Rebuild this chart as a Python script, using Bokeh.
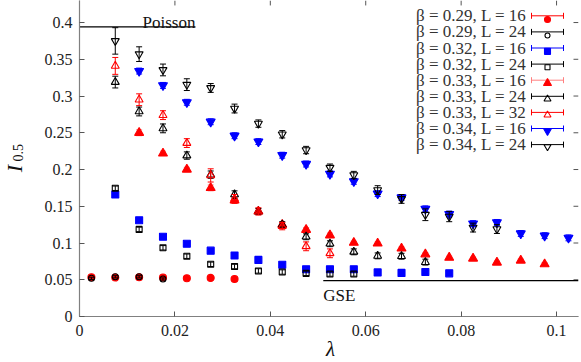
import numpy as np
from bokeh.plotting import figure
from bokeh.models import (ColumnDataSource, FixedTicker, CustomJSTickFormatter,
                          Range1d, Label, Whisker, TeeHead)
from bokeh.embed import file_html
from bokeh.resources import INLINE

# ---------------- data ----------------
lam_029_16 = [0.0025, 0.0075, 0.0125, 0.0175, 0.0225, 0.0275, 0.0325]
I_029_16 = [0.0535, 0.053, 0.0535, 0.053, 0.052, 0.0525, 0.051]
err_029_16 = [0.001] * 7

lam_029_24 = [0.0025, 0.0075, 0.0125, 0.0175]
I_029_24 = [0.052, 0.054, 0.054, 0.051]
err_029_24 = [0.0015] * 4

lam_032_16 = [0.0075, 0.0125, 0.0175, 0.0225, 0.0275, 0.0325, 0.0375, 0.0425,
              0.0475, 0.0525, 0.0575, 0.0625, 0.0675, 0.0725, 0.0775]
I_032_16 = [0.166, 0.131, 0.1085, 0.099, 0.0896, 0.083, 0.077, 0.0705,
            0.0643, 0.0643, 0.0643, 0.060, 0.0593, 0.0605, 0.0587]
err_032_16 = [0.002] * 15

lam_032_24 = [0.0075, 0.0125, 0.0175, 0.0225, 0.0275, 0.0325, 0.0375, 0.0425,
              0.0475, 0.0525, 0.0575]
I_032_24 = [0.1745, 0.1185, 0.0935, 0.082, 0.071, 0.068, 0.062, 0.0605,
            0.0587, 0.0578, 0.0578]
err_032_24 = [0.003] * 11

lam_033_16 = [0.0125, 0.0175, 0.0225, 0.0275, 0.0325, 0.0375, 0.0425, 0.0475, 0.0525,
              0.0575, 0.0625, 0.0675, 0.0725, 0.0775, 0.0825, 0.0875, 0.0925, 0.0975]
I_033_16 = [0.250, 0.222, 0.200, 0.175, 0.158, 0.143, 0.125, 0.118, 0.1105,
            0.1004, 0.0995, 0.0926, 0.0847, 0.0802, 0.0789, 0.0735, 0.0762, 0.0712]
err_033_16 = [0.004, 0.003, 0.003, 0.004, 0.004, 0.003, 0.003, 0.003, 0.003,
              0.002, 0.002, 0.002, 0.002, 0.002, 0.002, 0.002, 0.002, 0.002]

lam_033_24 = [0.0075, 0.0125, 0.0175, 0.0225, 0.0275, 0.0325, 0.0375, 0.0425,
              0.0475, 0.0525, 0.0575, 0.0625, 0.0675, 0.0725]
I_033_24 = [0.319, 0.279, 0.256, 0.219, 0.193, 0.166, 0.143, 0.125,
            0.1085, 0.099, 0.088, 0.0825, 0.082, 0.074]
err_033_24 = [0.008, 0.006, 0.006, 0.005, 0.005, 0.005, 0.004, 0.004,
              0.004, 0.004, 0.004, 0.004, 0.004, 0.004]

lam_033_32 = [0.0075, 0.0125, 0.0175, 0.0225, 0.0275, 0.0325, 0.0375, 0.0425,
              0.0475, 0.0525]
I_033_32 = [0.341, 0.295, 0.274, 0.236, 0.192, 0.160, 0.143, 0.123, 0.0955, 0.086]
err_033_32 = [0.0115, 0.008, 0.006, 0.006, 0.009, 0.006, 0.005, 0.005, 0.006, 0.006]

lam_034_16 = [0.0125, 0.0175, 0.0225, 0.0275, 0.0325, 0.0375, 0.0425, 0.0475, 0.0525,
              0.0575, 0.0625, 0.0675, 0.0725, 0.0775, 0.0825, 0.0875, 0.0925, 0.0975, 0.1025]
I_034_16 = [0.334, 0.3145, 0.2915, 0.265, 0.246, 0.238, 0.2195, 0.2075, 0.194,
            0.184, 0.1672, 0.162, 0.1465, 0.1394, 0.1264, 0.128, 0.113, 0.110, 0.107]
err_034_16 = [0.004] * 19

lam_034_24 = [0.0075, 0.0125, 0.0175, 0.0225, 0.0275, 0.0325, 0.0375, 0.0425, 0.0475,
              0.0525, 0.0575, 0.0625, 0.0675, 0.0725, 0.0775, 0.0825, 0.0875]
I_034_24 = [0.375, 0.357, 0.3355, 0.3155, 0.311, 0.283, 0.2625, 0.248, 0.2265,
            0.2025, 0.1925, 0.172, 0.160, 0.1385, 0.136, 0.121, 0.119]
err_034_24 = [0.018, 0.010, 0.008, 0.008, 0.006, 0.006, 0.005, 0.005, 0.005,
              0.005, 0.005, 0.006, 0.006, 0.008, 0.007, 0.006, 0.006]

series_labels = ["β = 0.29, L = 16", "β = 0.29, L = 24", "β = 0.32, L = 16",
                 "β = 0.32, L = 24", "β = 0.33, L = 16", "β = 0.33, L = 24",
                 "β = 0.33, L = 32", "β = 0.34, L = 16", "β = 0.34, L = 24"]

x_ticks = [0, 0.02, 0.04, 0.06, 0.08, 0.1]
y_ticks = [0, 0.05, 0.1, 0.15, 0.2, 0.25, 0.3, 0.35, 0.4]

poisson_level = 0.394
poisson_lam = [0.0, 0.0243]
gse_level = 0.0488
gse_lam = [0.0511, 0.1046]

# ---------------- styles ----------------
RED, BLUE, BLACK, PINK = "#ff0000", "#0000ff", "#000000", "#ff8080"
styles = [
    # marker, size, fill, line, errcolor
    ("circle", 7, RED, RED, RED),
    ("circle", 6, None, BLACK, BLACK),
    ("square", 7, BLUE, BLUE, BLUE),
    ("square", 6, None, BLACK, BLACK),
    ("triangle", 9, RED, RED, PINK),
    ("triangle", 8, None, BLACK, BLACK),
    ("triangle", 8, None, RED, RED),
    ("inverted_triangle", 9, BLUE, BLUE, BLUE),
    ("inverted_triangle", 8, None, BLACK, BLACK),
]
data = [(lam_029_16, I_029_16, err_029_16), (lam_029_24, I_029_24, err_029_24),
        (lam_032_16, I_032_16, err_032_16), (lam_032_24, I_032_24, err_032_24),
        (lam_033_16, I_033_16, err_033_16), (lam_033_24, I_033_24, err_033_24),
        (lam_033_32, I_033_32, err_033_32), (lam_034_16, I_034_16, err_034_16),
        (lam_034_24, I_034_24, err_034_24)]

FONT = "Liberation Serif"
FRAME_W, FRAME_H = 499, 320

p = figure(width=581, height=362, x_range=Range1d(0, 0.1046), y_range=Range1d(0, 0.43),
           output_backend="svg", toolbar_location=None,
           min_border_left=79, min_border_right=3, min_border_top=0, min_border_bottom=42)
# pixel-like ranges for frame decorations (mirror ticks, legend samples)
p.extra_x_ranges = {"px": Range1d(0, FRAME_W)}
p.extra_y_ranges = {"px": Range1d(0, FRAME_H)}
p.outline_line_color = None
p.grid.visible = False

fmt = CustomJSTickFormatter(code="return (Math.round(tick*1000)/1000).toString();")
for ax, tk in ((p.xaxis[0], x_ticks), (p.yaxis[0], y_ticks)):
    ax.ticker = FixedTicker(ticks=tk)
    ax.formatter = fmt
    ax.minor_tick_line_color = None
    ax.major_tick_in = 5
    ax.major_tick_out = 0
    ax.axis_line_color = "#808080"
    ax.axis_line_width = 1.2
    ax.major_tick_line_color = "#555555"
    ax.major_label_text_font = FONT
    ax.major_label_text_font_size = "16px"
    ax.major_label_text_color = "#222222"
p.xaxis.major_label_standoff = 8
p.yaxis.major_label_standoff = 7

# mirror ticks on top and right
p.segment(x0=x_ticks, x1=x_ticks, y0=[FRAME_H - 5] * len(x_ticks), y1=[FRAME_H] * len(x_ticks),
          y_range_name="px", line_color="#555555", line_width=1)
p.segment(x0=[FRAME_W - 5] * len(y_ticks), x1=[FRAME_W] * len(y_ticks), y0=y_ticks, y1=y_ticks,
          x_range_name="px", line_color="#555555", line_width=1)

# reference levels
p.line(poisson_lam, [poisson_level] * 2, line_color="black", line_width=1.3)
p.line(gse_lam, [gse_level] * 2, line_color="black", line_width=1.3)
p.add_layout(Label(x=poisson_lam[1], y=poisson_level + 0.006, text="Poisson", text_align="right",
                   text_baseline="alphabetic", text_font=FONT, text_font_size="17px",
                   text_color="#111111"))
p.add_layout(Label(x=gse_lam[0], y=gse_level - 0.0205, text="GSE", text_align="left",
                   text_baseline="alphabetic", text_font=FONT, text_font_size="17px",
                   text_color="#111111"))

for (lam, I, err), (mk, sz, fill, line, ecol) in zip(data, styles):
    lam = np.array(lam); I = np.array(I); err = np.array(err)
    src = ColumnDataSource(dict(x=lam, y=I, lo=I - err, hi=I + err))
    p.segment(x0="x", y0="lo", x1="x", y1="hi", source=src, line_color=ecol, line_width=1)
    p.scatter(x="x", y="lo", marker="dash", size=6, line_color=ecol, line_width=1, source=src)
    p.scatter(x="x", y="hi", marker="dash", size=6, line_color=ecol, line_width=1, source=src)
    p.scatter(x="x", y="y", marker=mk, size=sz, fill_color=fill, line_color=line,
              line_width=1.1, source=src)

# legend: right-aligned texts, sample bars with caps, markers
row_h = 16.1
first_row = 300.7
for i, (label, (mk, sz, fill, line, ecol)) in enumerate(zip(series_labels, styles)):
    yy = first_row - row_h * i
    p.add_layout(Label(x=447, y=yy, x_units="screen", y_units="screen", text=label,
                       text_align="right", text_baseline="middle", text_font=FONT,
                       text_font_size="17px", text_color="#333333"))
    wsrc = ColumnDataSource(dict(base=[yy], lower=[452], upper=[484]))
    p.add_layout(Whisker(source=wsrc, base="base", lower="lower", upper="upper", dimension="width",
                         base_units="screen", lower_units="screen", upper_units="screen",
                         line_color=ecol, line_width=1,
                         upper_head=TeeHead(size=6, line_color=ecol, line_width=1),
                         lower_head=TeeHead(size=6, line_color=ecol, line_width=1)))
    p.scatter(x=[468], y=[yy], marker=mk, size=sz - 1, fill_color=fill, line_color=line,
              line_width=1.1, x_range_name="px", y_range_name="px")

# axis titles (placed in the side panels so that they are not clipped to the frame)
p.add_layout(Label(x=-0.0136, y=0.2012, text="I", angle=np.pi / 2,
                   text_align="center", text_baseline="middle", text_font=FONT,
                   text_font_style="italic", text_font_size="22px", text_color="#111111"), "left")
p.add_layout(Label(x=-0.0128, y=0.2227, text="0.5", angle=np.pi / 2,
                   text_align="center", text_baseline="middle", text_font=FONT,
                   text_font_size="14px", text_color="#111111"), "left")
p.add_layout(Label(x=0.0526, y=-0.0445, text="λ",
                   text_align="center", text_baseline="alphabetic", text_font=FONT,
                   text_font_style="italic", text_font_size="21px", text_color="#111111"), "below")

open("out.html", "w").write(file_html(p, INLINE))
